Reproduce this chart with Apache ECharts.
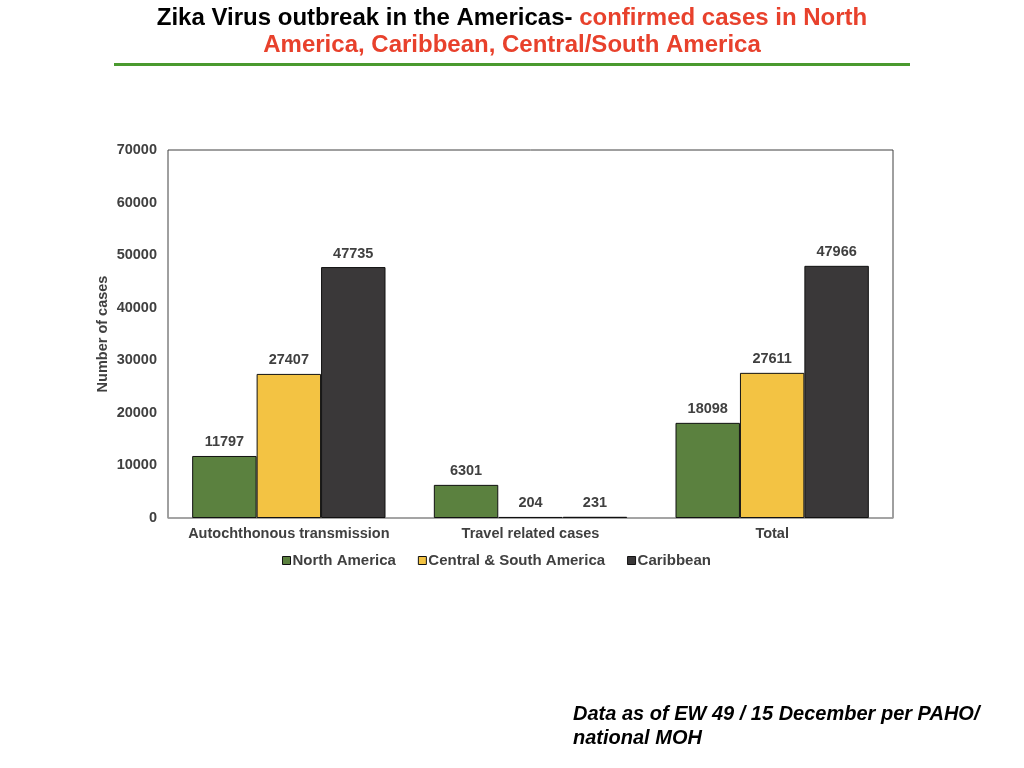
<!DOCTYPE html>
<html lang="en">
<head>
    <meta charset="utf-8">
    <title>Zika Virus outbreak in the Americas</title>
    <script src="https://cdn.jsdelivr.net/npm/echarts@6/dist/echarts.min.js"></script>
    <style type="text/css">
        html, body {
            margin: 0;
            padding: 0;
            background: #fff;
        }
    </style>
</head>
<body>
<div id="main" style="width: 1024px;height:768px"></div>

<script type="text/javascript">
    // 数据
    var categories = ['Autochthonous transmission', 'Travel related cases', 'Total'];
    var northAmerica = [11797, 6301, 18098];
    var centralSouth = [27407, 204, 27611];
    var caribbean = [47735, 231, 47966];
    var seriesNames = ['North America', 'Central & South America', 'Caribbean'];
    var seriesColors = ['#5b813f', '#f3c343', '#3a3839'];

    var labelFont = 'Liberation Sans, Arial, sans-serif';
    var myChart = echarts.init(document.getElementById('main'));

    function makeSeries(i, data) {
        return {
            name: seriesNames[i],
            type: 'bar',
            data: data,
            barGap: '0%',
            barCategoryGap: '20%',
            itemStyle: {
                color: seriesColors[i],
                borderColor: '#111',
                borderWidth: 1
            },
            label: {
                show: true,
                position: 'top',
                distance: 6,
                color: '#404040',
                fontWeight: 'bold',
                fontSize: 14.5,
                fontFamily: labelFont
            }
        };
    }

    var option = {
        animation: false,
        backgroundColor: '#fff',
        graphic: [
            {
                type: 'text',
                left: 'center',
                top: 6,
                style: {
                    text: '{b|Zika Virus outbreak in the Americas- }{r|confirmed cases in North}\n{r|America, Caribbean, Central/South America}',
                    textAlign: 'center',
                    rich: {
                        b: {fill: '#000', fontSize: 24, fontWeight: 'bold', fontFamily: labelFont, lineHeight: 27},
                        r: {fill: '#e8412c', fontSize: 24, fontWeight: 'bold', fontFamily: labelFont, lineHeight: 27}
                    }
                }
            },
            {
                type: 'rect',
                shape: {x: 114, y: 63, width: 796, height: 3},
                style: {fill: '#4a9a2f'}
            },
            {
                type: 'text',
                left: 573,
                top: 702,
                style: {
                    text: 'Data as of EW 49 / 15 December per PAHO/\nnational MOH',
                    fill: '#000',
                    fontSize: 20,
                    fontWeight: 'bold',
                    fontStyle: 'italic',
                    fontFamily: labelFont,
                    lineHeight: 24
                }
            }
        ],
        legend: {
            data: seriesNames,
            top: 548,
            left: 277,
            itemWidth: 8,
            itemHeight: 8,
            itemGap: 22,
            icon: 'rect',
            itemStyle: {borderColor: '#111', borderWidth: 1},
            textStyle: {
                color: '#404040',
                fontWeight: 'bold',
                fontSize: 15,
                fontFamily: labelFont,
                padding: [0, 0, 0, -3]
            }
        },
        grid: {
            left: 168,
            right: 131,
            top: 150,
            bottom: 250,
            show: true,
            borderColor: '#404040',
            borderWidth: 1,
            containLabel: false
        },
        xAxis: {
            type: 'category',
            data: categories,
            axisLine: {lineStyle: {color: '#a6a6a6', width: 1.5}},
            axisTick: {show: false},
            axisLabel: {
                interval: 0,
                color: '#404040',
                fontWeight: 'bold',
                fontSize: 14.5,
                fontFamily: labelFont,
                margin: 8
            }
        },
        yAxis: {
            type: 'value',
            min: 0,
            max: 70000,
            interval: 10000,
            name: 'Number of cases',
            nameLocation: 'middle',
            nameGap: 58,
            nameMoveOverlap: false,
            nameTextStyle: {
                color: '#404040',
                fontWeight: 'bold',
                fontSize: 14.5,
                fontFamily: labelFont
            },
            splitLine: {show: false},
            axisLine: {show: false},
            axisTick: {show: false},
            axisLabel: {
                color: '#404040',
                fontWeight: 'bold',
                fontSize: 14.5,
                fontFamily: labelFont,
                margin: 11,
                formatter: function (v) { return String(v); }
            }
        },
        series: [
            makeSeries(0, northAmerica),
            makeSeries(1, centralSouth),
            makeSeries(2, caribbean)
        ]
    };
    myChart.setOption(option);
</script>
</body>
</html>
